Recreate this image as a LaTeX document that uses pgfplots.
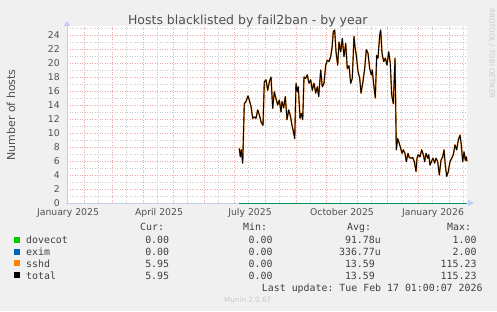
\documentclass[border=0pt]{standalone}
\usepackage{fontspec}
\setmainfont{DejaVu Sans}
\setmonofont{DejaVu Sans Mono}
\usepackage{pgfplots}
\pgfplotsset{compat=1.18}
\usepackage{pgfplotstable}
\usetikzlibrary{arrows.meta}
\definecolor{bgc}{HTML}{F0F0F0}
\definecolor{mgrid}{HTML}{EEA6A6}
\definecolor{ngrid}{HTML}{CDCDCD}
\definecolor{axc}{HTML}{C4CCF4}
\definecolor{txt}{HTML}{505050}
\definecolor{legtxt}{HTML}{404040}
\definecolor{wm}{HTML}{C8C8C8}
\definecolor{dovecot}{HTML}{00CC00}
\definecolor{exim}{HTML}{0066B3}
\definecolor{sshd}{HTML}{FF8000}

% x = pixel-day position (1 unit = 1 day), y = number of hosts
\pgfplotstableread{
x y
239.3 7.8
240.3 6.6
241.3 7.6
242.7 5.7
244.3 14.2
246 14.5
248 15.3
249.3 14.7
251 13.8
252.7 12.1
254.3 12.3
256 12.1
257.7 13.3
259.3 12.6
261 11.6
263 11.1
264.3 17.3
266 17.6
267.7 16.1
269.3 17.3
271 18.0
272.7 13.5
274.3 15.9
276 14.9
277.7 14.0
279.3 14.7
281 13.0
282 14.5
283.7 13.6
285.3 15.2
287 11.9
288.7 13.3
290.3 12.5
292 11.1
293.7 10.0
294.7 9.2
296 17.1
297.3 15.9
298.3 16.6
300 12.1
301.3 12.8
302.7 11.9
304 18.0
305.7 17.8
307.3 18.3
309 17.1
310.7 17.6
312.3 16.1
314 17.1
315.7 15.7
317.3 16.6
318.7 15.2
320.7 19.0
322.3 16.6
324 17.1
325.7 19.7
327.3 20.4
329 20.2
330.7 20.9
332 22.1
333.3 24.5
334.7 24.7
336 21.6
337.7 19.7
339 23.0
340.7 21.6
342.3 23.5
344 20.9
345.7 22.8
347.3 19.2
349 19.6
350.7 17.1
352.3 17.8
354 23.8
355 22.3
356.3 21.1
358 18.8
359.7 17.8
361 15.7
362.7 17.1
364.7 19.2
366.3 21.9
368 21.4
369.7 19.2
371.3 18.3
372.3 19.0
373.7 16.9
375.3 15.0
376.7 21.1
378 20.7
379.7 24.0
380.7 24.7
382 21.4
383.7 20.2
385.3 20.7
387 19.7
388.7 21.6
390.3 19.9
391.7 15.4
393.3 14.2
395 20.7
396.3 7.6
397.7 9.2
399.3 8.5
400.7 7.8
402 7.1
403.3 7.6
405 7.1
406.3 5.9
408 7.1
409.3 6.5
411 6.4
412.7 6.5
414.3 5.9
416 4.5
417 6.4
418.3 6.9
420 6.6
421.7 7.6
423.3 6.9
424.7 5.9
426 7.1
427.7 6.4
428.7 6.9
430 5.4
431.3 5.9
433 6.4
434.7 5.7
436 6.4
437.7 5.9
439.3 4.0
441 6.1
442.7 6.6
444 7.6
445.3 5.4
446.7 3.8
448.3 4.5
450 5.9
451.7 6.4
453.3 6.9
455 8.3
456.7 7.6
458.3 9.0
460 9.7
461.3 8.3
462.7 5.9
464 7.3
465.3 6.1
466.3 6.6
467 5.95
}\hosts

\begin{document}
\begin{tikzpicture}[x=1pt,y=1pt]
\useasboundingbox (0,0) rectangle (497,311);
\fill[bgc] (0,0) rectangle (497,311);
\begin{axis}[
  at={(67pt,108pt)}, anchor=south west,
  scale only axis, width=400pt, height=177.1pt,
  xmin=67, xmax=467, ymin=0, ymax=25.3,
  axis line style={draw=none},
  axis background/.style={fill=white},
  clip=false,
  /pgf/number format/assume math mode=true,
  tick style={draw=none},
  ytick={0,2,...,24},
  minor ytick={1,3,...,25},
  ymajorgrids, yminorgrids,
  xtick={68,159,250,342,433},
  xticklabels={January 2025,April 2025,July 2025,October 2025,January 2026},
  extra x ticks={84,112,143,173,204,234,265,296,326,357,387,418,449},
  extra x tick labels={},
  extra x tick style={xmajorgrids=true},
  minor xtick={98,126,157,187,218,248,279,310,340,371,401,432,463},
  xminorgrids,
  major grid style={mgrid, dash pattern=on 1pt off 1.5pt, line width=0.65pt},
  minor grid style={ngrid, dash pattern=on 1pt off 1.5pt, line width=0.6pt},
  ticklabel style={font=\fontsize{9.3}{11}\selectfont, text=txt},
  yticklabel style={inner sep=0pt, xshift=-7pt},
  xticklabel style={inner sep=0pt, yshift=-5pt},
]
\draw[axc, line width=1pt, -{Triangle[width=6pt,length=6pt]}] (axis cs:66,0) -- (axis cs:474,0);
\draw[axc, line width=1pt, -{Triangle[width=6pt,length=5pt]}] (axis cs:67,-0.1) -- (axis cs:67,26.0);
\addplot[dovecot, line width=1pt] coordinates {(239.3,0) (467,0)};
\addplot[exim, line width=1pt, opacity=0.5] coordinates {(239.3,0) (467,0)};
\addplot[sshd!85!black, line width=1.45pt, line join=round] table[x=x,y=y] {\hosts};
\addplot[black, line width=0.85pt, line join=round] table[x=x,y=y] {\hosts};
\end{axis}
% title, axis label, watermark
\node[anchor=base, text=txt, font=\fontsize{12.5}{14}\selectfont] at (247.8,286) {Hosts blacklisted by fail2ban - by year};
\node[anchor=base, rotate=90, text=txt, font=\fontsize{11}{13}\selectfont] at (15,196) {Number of hosts};
\node[rotate=-90, text=wm, font=\fontsize{7}{8}\selectfont] at (492,257.5) {RRDTOOL / TOBI OETIKER};
% legend
\begin{scope}[every node/.style={font=\ttfamily\fontsize{9.9}{12}\selectfont, text=legtxt, inner sep=0pt}]
\node[anchor=base west] at (140,80.3) {Cur:};
\node[anchor=base west] at (243,80.3) {Min:};
\node[anchor=base west] at (347,80.3) {Avg:};
\node[anchor=base west] at (447,80.3) {Max:};
\fill[dovecot] (14,68) rectangle (20,74);
\fill[exim] (14,56.2) rectangle (20,62.2);
\fill[sshd] (14,44.7) rectangle (20,50.7);
\fill[black] (14,32.7) rectangle (20,38.7);
\node[anchor=base west] at (26,67.3) {dovecot};
\node[anchor=base west] at (26,55.5) {exim};
\node[anchor=base west] at (26,44) {sshd};
\node[anchor=base west] at (26,32) {total};
\node[anchor=base east] at (169.3,67.3) {0.00};
\node[anchor=base east] at (169.3,55.5) {0.00};
\node[anchor=base east] at (169.3,44) {5.95};
\node[anchor=base east] at (169.3,32) {5.95};
\node[anchor=base east] at (272.7,67.3) {0.00};
\node[anchor=base east] at (272.7,55.5) {0.00};
\node[anchor=base east] at (272.7,44) {0.00};
\node[anchor=base east] at (272.7,32) {0.00};
\node[anchor=base east] at (381,67.3) {91.78u};
\node[anchor=base east] at (381,55.5) {336.77u};
\node[anchor=base east] at (375,44) {13.59};
\node[anchor=base east] at (375,32) {13.59};
\node[anchor=base east] at (476.7,67.3) {1.00};
\node[anchor=base east] at (476.7,55.5) {2.00};
\node[anchor=base east] at (476.7,44) {115.23};
\node[anchor=base east] at (476.7,32) {115.23};
\node[anchor=base east] at (482.7,19.3) {Last update: Tue Feb 17 01:00:07 2026};
\end{scope}
\node[anchor=base, text=wm, font=\fontsize{7.2}{8}\selectfont, inner sep=0pt] at (247.7,8.3) {Munin 2.0.67};
\end{tikzpicture}
\end{document}
